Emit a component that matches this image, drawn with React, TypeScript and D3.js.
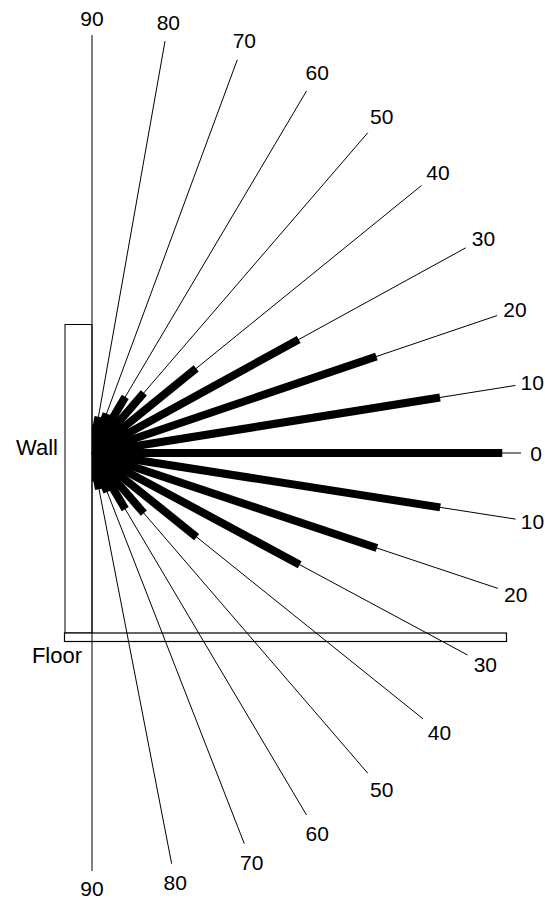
import React from "react";
import * as d3 from "d3";

// ---- data ----
const angleLabels = [0, 10, 20, 30, 40, 50, 60, 70, 80, 90];
// drawn direction of each labelled ray (degrees)
const upperDrawnAngles = [0, 9.3, 19.2, 29.4, 39.8, 50, 60, 70.2, 80.2, 90];
const lowerDrawnAngles = [0, 9.1, 18.9, 28.9, 39.5, 50, 60, 69.2, 79.3, 90];
const upperValues = [0.956, 0.822, 0.702, 0.553, 0.316, 0.188, 0.155, 0.1, 0.088, 0.068];
const lowerValues = [0.956, 0.822, 0.702, 0.553, 0.316, 0.188, 0.155, 0.1, 0.088, 0.068];
const wallLabel = "Wall";
const floorLabel = "Floor";

const W = 545;
const H = 901;
const ox = 92;
const oy = 453;

const upperAngle = d3.scaleLinear().domain(angleLabels).range(upperDrawnAngles);
const lowerAngle = d3.scaleLinear().domain(angleLabels).range(lowerDrawnAngles);
const rx = d3.scaleLinear().domain([0, 1]).range([0, 429]);
const ry = d3.scaleLinear().domain([0, 1]).range([0, 418]);

const FONT = "'Liberation Sans', Arial, Helvetica, sans-serif";

function pt(deg: number, v: number, sign: number) {
  const sc = sign === 1 ? upperAngle : lowerAngle;
  const a = (sc(deg) * Math.PI) / 180;
  return [ox + rx(v) * Math.cos(a), oy - sign * ry(v) * Math.sin(a)];
}

export default function App() {
  const rays: any[] = [];
  const bars: any[] = [];
  const labels: any[] = [];
  [1, -1].forEach((sign) => {
    const vals = sign === 1 ? upperValues : lowerValues;
    angleLabels.forEach((deg, i) => {
      const [ex, ey] = pt(deg, 1, sign);
      const [bx, by] = pt(deg, vals[i], sign);
      bars.push(
        <line key={`b${sign}${deg}`} x1={ox} y1={oy} x2={bx} y2={by}
          stroke="#000" strokeWidth={8} strokeLinecap="butt" />
      );
      if (sign === -1 && deg === 0) return;
      rays.push(
        <line key={`r${sign}${deg}`} x1={ox} y1={oy} x2={ex} y2={ey}
          stroke="#000" strokeWidth={1} />
      );
      const txt = String(deg);
      const dx = ex - ox;
      const dy = ey - oy;
      const len = Math.hypot(dx, dy);
      const ux = dx / len;
      const uy = dy / len;
      const off = 3 + 12 * Math.abs(ux) + 14 * Math.abs(uy);
      const lx = ex + off * ux;
      const ly = ey + off * uy;
      labels.push(
        <text key={`t${sign}${deg}`} x={lx} y={ly + 7.6} textAnchor="middle"
          fontFamily={FONT} fontSize={21} fill="#000">{txt}</text>
      );
    });
  });

  return (
    <svg width={W} height={H} style={{ position: "absolute", left: 0, top: 0, background: "#fff" }}>
      <rect x={0} y={0} width={W} height={H} fill="#fff" />
      {bars}
      <rect x={65} y={324.5} width={27} height={308.5} fill="#fff" stroke="#000" strokeWidth={1} />
      <rect x={64.5} y={633} width={442} height={8.5} fill="#fff" stroke="#000" strokeWidth={1.2} />
      {rays}
      {labels}
      <text x={58} y={455} textAnchor="end" fontFamily={FONT} fontSize={22} fill="#000">{wallLabel}</text>
      <text x={82} y={663} textAnchor="end" fontFamily={FONT} fontSize={22} fill="#000">{floorLabel}</text>
    </svg>
  );
}
